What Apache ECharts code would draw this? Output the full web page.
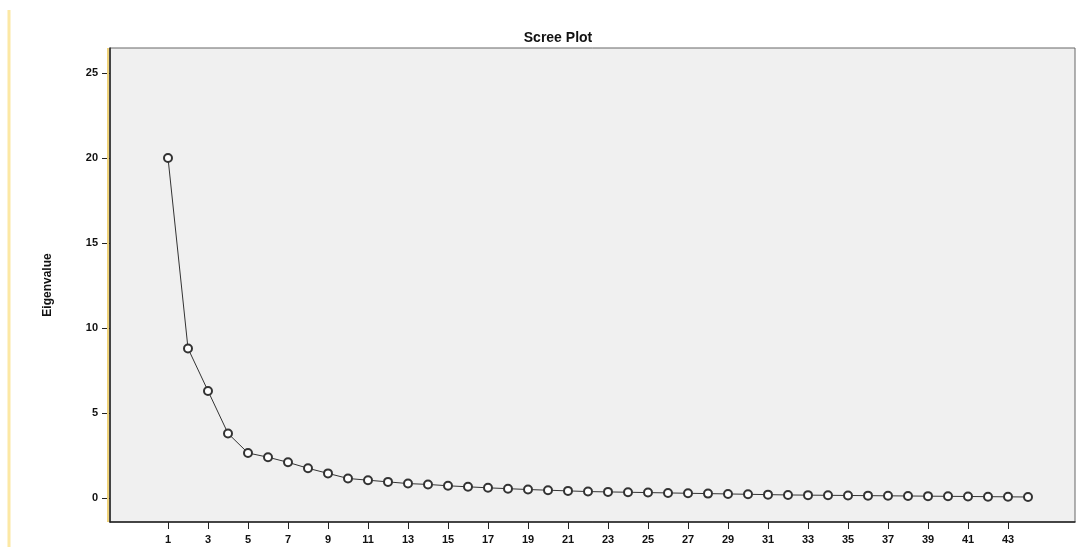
<!DOCTYPE html>
<html>
<head>
<meta charset="utf-8">
<script src="https://cdn.jsdelivr.net/npm/echarts@6/dist/echarts.min.js"></script>
<style>html,body{margin:0;padding:0;background:#fff;}#c{width:1076px;height:547px;}</style>
</head>
<body>
<div id="c"></div>
<script>
var components = [1,2,3,4,5,6,7,8,9,10,11,12,13,14,15,16,17,18,19,20,21,22,23,24,25,26,27,28,29,30,31,32,33,34,35,36,37,38,39,40,41,42,43,44];
var eigenvalues = [20.0,8.8,6.3,3.8,2.65,2.4,2.1,1.75,1.45,1.15,1.05,0.95,0.85,0.8,0.72,0.66,0.6,0.55,0.5,0.46,0.42,0.38,0.36,0.34,0.32,0.3,0.28,0.26,0.24,0.22,0.2,0.18,0.17,0.16,0.15,0.14,0.13,0.12,0.11,0.1,0.09,0.08,0.07,0.06];
var xTickLabels = [1,3,5,7,9,11,13,15,17,19,21,23,25,27,29,31,33,35,37,39,41,43];
var yTickLabels = [0,5,10,15,20,25];

var chart = echarts.init(document.getElementById('c'));
var pts = components.map(function(c,i){return [c, eigenvalues[i]];});
chart.setOption({
  animation: false,
  backgroundColor: '#ffffff',
  title: {
    text: 'Scree Plot', left: 553, top: 26, textAlign: 'center',
    textStyle: {fontFamily: 'Liberation Sans', fontSize: 14, fontWeight: 'bold', color: '#111'}
  },
  grid: {
    left: 110, right: 1, top: 48, bottom: 25,
    show: true, backgroundColor: '#f0f0f0', borderColor: '#666', borderWidth: 1
  },
  xAxis: {
    type: 'value', min: -1.9, max: 46.35,
    axisLine: {show: true, onZero: false, lineStyle: {color: '#222', width: 1.5}},
    axisTick: {show: true, length: 7, lineStyle: {color: '#222'}, customValues: xTickLabels},
    axisLabel: {customValues: xTickLabels, fontFamily: 'Liberation Sans', fontSize: 11, fontWeight: 'bold', color: '#111', margin: 12},
    splitLine: {show: false}
  },
  yAxis: {
    type: 'value', min: -1.41, max: 26.47,
    name: 'Eigenvalue', nameLocation: 'middle', nameGap: 56, nameRotate: 90,
    nameTextStyle: {fontFamily: 'Liberation Sans', fontSize: 12, fontWeight: 'bold', color: '#111'},
    axisLine: {show: true, onZero: false, lineStyle: {color: '#222', width: 1.5}},
    axisTick: {show: true, length: 8, lineStyle: {color: '#222'}, customValues: yTickLabels},
    axisLabel: {customValues: yTickLabels, fontFamily: 'Liberation Sans', fontSize: 11, fontWeight: 'bold', color: '#111', margin: 12},
    splitLine: {show: false}
  },
  graphic: [
    {type: 'line', shape: {x1: 9, y1: 10, x2: 9, y2: 547}, style: {stroke: '#fce8a4', lineWidth: 3}, z: 100},
    {type: 'line', shape: {x1: 108, y1: 48, x2: 108, y2: 522}, style: {stroke: '#efd27a', lineWidth: 2}, z: 100}
  ],
  series: [{
    type: 'line', data: pts,
    symbol: 'emptyCircle', symbolSize: 8,
    lineStyle: {color: '#333', width: 1},
    itemStyle: {color: '#333', borderColor: '#333', borderWidth: 1.2}
  }]
});
</script>
</body>
</html>
